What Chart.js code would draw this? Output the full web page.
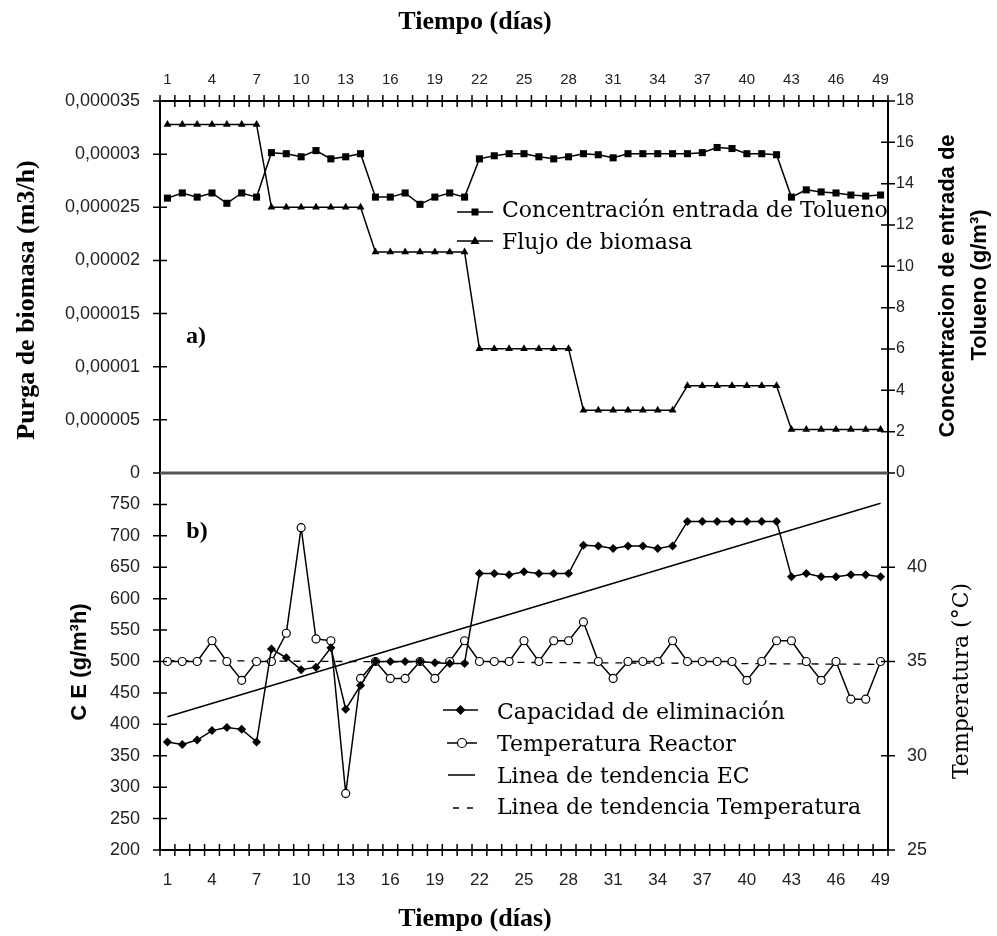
<!DOCTYPE html>
<html>
<head>
<meta charset="utf-8">
<script src="https://cdn.jsdelivr.net/npm/chart.js@4.4.0/dist/chart.umd.min.js"></script>
<style>
  html, body { margin: 0; padding: 0; background: #fff; }
  #wrap { position: relative; width: 997px; height: 936px; overflow: hidden; }
  canvas { position: absolute; left: 0; }
  #chartA { top: 0; }
  #chartB { top: 466px; }
</style>
</head>
<body>
<div id="wrap">
  <canvas id="chartA" width="997" height="480"></canvas>
  <canvas id="chartB" width="997" height="470"></canvas>
</div>
<script>
// --- data ---
const days = [1, 2, 3, 4, 5, 6, 7, 8, 9, 10, 11, 12, 13, 14, 15, 16, 17, 18, 19, 20, 21, 22, 23, 24, 25,
  26, 27, 28, 29, 30, 31, 32, 33, 34, 35, 36, 37, 38, 39, 40, 41, 42, 43, 44, 45, 46, 47, 48, 49];
const dayLabelStep = 3;

// a) concentracion entrada de tolueno (g/m3), right axis
const toluenoIn = [13.3, 13.55, 13.35, 13.55, 13.05, 13.55, 13.35,
  15.5, 15.45, 15.3, 15.6, 15.2, 15.3, 15.45,
  13.35, 13.35, 13.55, 13.0, 13.35, 13.55, 13.35,
  15.2, 15.35, 15.45, 15.45, 15.3, 15.2, 15.3,
  15.45, 15.4, 15.25, 15.45, 15.45, 15.45, 15.45,
  15.45, 15.5, 15.75, 15.7, 15.45, 15.45, 15.4,
  13.35, 13.7, 13.6, 13.55, 13.45, 13.4, 13.45];

// a) flujo / purga de biomasa (m3/h), left axis
const biomasa = [0.0000328, 0.0000328, 0.0000328, 0.0000328, 0.0000328, 0.0000328, 0.0000328,
  0.000025, 0.000025, 0.000025, 0.000025, 0.000025, 0.000025, 0.000025,
  0.0000208, 0.0000208, 0.0000208, 0.0000208, 0.0000208, 0.0000208, 0.0000208,
  0.0000117, 0.0000117, 0.0000117, 0.0000117, 0.0000117, 0.0000117, 0.0000117,
  0.0000059, 0.0000059, 0.0000059, 0.0000059, 0.0000059, 0.0000059, 0.0000059,
  0.0000082, 0.0000082, 0.0000082, 0.0000082, 0.0000082, 0.0000082, 0.0000082,
  0.0000041, 0.0000041, 0.0000041, 0.0000041, 0.0000041, 0.0000041, 0.0000041];

// b) capacidad de eliminacion (g/m3h), left axis
const capElim = [372, 368, 375, 390, 395, 392, 372,
  520, 506, 487, 491, 522, 424, 462,
  500, 500, 500, 500, 498, 497, 497,
  640, 640, 638, 643, 640, 640, 640,
  685, 684, 680, 684, 684, 680, 684,
  723, 723, 723, 723, 723, 723, 723,
  635, 640, 635, 635, 638, 638, 635];

// b) temperatura reactor (C), right axis
const tempReactor = [35, 35, 35, 36.1, 35, 34, 35,
  35, 36.5, 42.1, 36.2, 36.1, 28.0, 34.1,
  35, 34.1, 34.1, 35, 34.1, 35, 36.1,
  35, 35, 35, 36.1, 35, 36.1, 36.1,
  37.1, 35, 34.1, 35, 35, 35, 36.1,
  35, 35, 35, 35, 34.0, 35, 36.1,
  36.1, 35, 34.0, 35, 33.0, 33.0, 35];

// trend lines (end points)
const trendDays = [1, 49];
const trendEC = [412, 752];
const trendTemp = [35.05, 34.85];

// axis ticks
const purgaTicks = [0, 0.000005, 0.00001, 0.000015, 0.00002, 0.000025, 0.00003, 0.000035];
const purgaLabels = ['0', '0,000005', '0,00001', '0,000015', '0,00002', '0,000025', '0,00003', '0,000035'];
const toluenoTicks = [0, 2, 4, 6, 8, 10, 12, 14, 16, 18];
const ceTicks = [200, 250, 300, 350, 400, 450, 500, 550, 600, 650, 700, 750];
const tempTicks = [25, 30, 35, 40];

// --- helpers ---
const SANS = "'Liberation Sans', Arial, sans-serif";
const SERIF = "'Liberation Serif', 'Times New Roman', serif";
const WIDE_SERIF = "'DejaVu Serif', serif";
const INK = '#000';
const TICK_INK = '#222';

const fixedTicks = vals => scale => { scale.ticks = vals.map(v => ({ value: v })); };
// force exact axis sizes so the plot areas line up with the figure
const fixSize = (prop, size) => scale => {
  scale[prop] = size;
  scale.paddingTop = 0; scale.paddingBottom = 0;
  scale.paddingLeft = 0; scale.paddingRight = 0;
};
const dayTick = (val, i) => ((days[i] - 1) % dayLabelStep === 0 ? String(days[i]) : '');
const noGrid = { display: false, drawTicks: false };
const noBorder = { display: false };

function drawText(ctx, str, x, y, font, rot, align) {
  ctx.save();
  ctx.font = font;
  ctx.fillStyle = INK;
  ctx.textAlign = align || 'center';
  ctx.textBaseline = 'middle';
  ctx.translate(x, y);
  if (rot) ctx.rotate(rot);
  ctx.fillText(str, 0, 0);
  ctx.restore();
}

function drawMarker(ctx, style, x, y) {
  ctx.save();
  ctx.fillStyle = INK;
  ctx.strokeStyle = INK;
  ctx.lineWidth = 1.2;
  ctx.beginPath();
  if (style === 'rect') {
    ctx.rect(x - 3.5, y - 3.5, 7, 7);
    ctx.fill();
  } else if (style === 'triangle') {
    ctx.moveTo(x, y - 5); ctx.lineTo(x + 4.5, y + 3); ctx.lineTo(x - 4.5, y + 3); ctx.closePath();
    ctx.fill();
  } else if (style === 'rectRot') {
    ctx.moveTo(x, y - 5); ctx.lineTo(x + 5, y); ctx.lineTo(x, y + 5); ctx.lineTo(x - 5, y); ctx.closePath();
    ctx.fill();
  } else if (style === 'circle') {
    ctx.arc(x, y, 4.5, 0, Math.PI * 2);
    ctx.fillStyle = '#fff';
    ctx.fill();
    ctx.stroke();
  }
  ctx.restore();
}

function drawLegend(ctx, items, offY) {
  items.forEach(it => {
    ctx.save();
    ctx.strokeStyle = INK;
    ctx.lineWidth = 1.5;
    if (it.dash) ctx.setLineDash(it.dash);
    ctx.beginPath();
    ctx.moveTo(it.x0, it.ly - offY);
    ctx.lineTo(it.x1, it.ly - offY);
    ctx.stroke();
    ctx.restore();
    if (it.marker) drawMarker(ctx, it.marker, (it.x0 + it.x1) / 2, it.ly - offY);
    drawText(ctx, it.text, it.tx, it.ty - offY, '22px ' + WIDE_SERIF, 0, 'left');
  });
}

// axis lines and crossing tick marks
function axisDecor(edge) {
  return {
    id: 'axisDecor',
    afterDraw(chart) {
      const { ctx, chartArea: a, scales } = chart;
      const ey = edge === 'top' ? a.top : a.bottom;
      ctx.save();
      ctx.strokeStyle = INK;
      ctx.lineWidth = 2;
      ctx.beginPath();
      ctx.moveTo(a.left, a.top); ctx.lineTo(a.left, a.bottom);
      ctx.moveTo(a.right, a.top); ctx.lineTo(a.right, a.bottom);
      ctx.moveTo(a.left, ey); ctx.lineTo(a.right, ey);
      ctx.stroke();

      ctx.lineWidth = 1.5;
      ctx.beginPath();
      const xs = scales.x;
      for (let k = 0; k <= days.length; k++) {
        const px = xs.getPixelForValue(k - 0.5);
        ctx.moveTo(px, ey - 6); ctx.lineTo(px, ey + 6);
      }
      ['yL', 'yR'].forEach(id => {
        const s = scales[id];
        const ax = id === 'yL' ? a.left : a.right;
        s.ticks.forEach(t => {
          const py = s.getPixelForValue(t.value);
          ctx.moveTo(ax - 7, py); ctx.lineTo(ax + 7, py);
        });
      });
      ctx.stroke();

      if (edge === 'bottom') {
        // separator between the two panels
        ctx.strokeStyle = '#555';
        ctx.lineWidth = 3;
        ctx.beginPath();
        ctx.moveTo(a.left, a.top); ctx.lineTo(a.right, a.top);
        ctx.stroke();
      }
      ctx.restore();
    }
  };
}

const labelsA = {
  id: 'labelsA',
  afterDraw(chart) {
    const ctx = chart.ctx;
    drawText(ctx, 'Tiempo (días)', 475, 22, 'bold 26px ' + SERIF);
    drawText(ctx, 'Purga de biomasa (m3/h)', 27, 300, 'bold 26px ' + SERIF, -Math.PI / 2);
    drawText(ctx, 'Concentracion de entrada de', 948, 286, 'bold 22px ' + SANS, -Math.PI / 2);
    drawText(ctx, 'Tolueno (g/m³)', 980, 285, 'bold 22px ' + SANS, -Math.PI / 2);
    drawText(ctx, 'a)', 196, 337, 'bold 24px ' + SERIF);
    drawLegend(ctx, [
      { text: 'Concentración entrada de Tolueno', marker: 'rect', x0: 457, x1: 493, ly: 212, tx: 502, ty: 211 },
      { text: 'Flujo de biomasa', marker: 'triangle', x0: 457, x1: 493, ly: 241, tx: 502, ty: 243 }
    ], 0);
  }
};

const labelsB = {
  id: 'labelsB',
  afterDraw(chart) {
    const ctx = chart.ctx;
    const off = 466;
    drawText(ctx, 'Tiempo (días)', 475, 919 - off, 'bold 26px ' + SERIF);
    drawText(ctx, 'C E (g/m³h)', 80, 662 - off, 'bold 22px ' + SANS, -Math.PI / 2);
    drawText(ctx, 'Temperatura (°C)', 962, 681 - off, '22px ' + WIDE_SERIF, -Math.PI / 2);
    drawText(ctx, 'b)', 197, 532 - off, 'bold 24px ' + SERIF);
    drawLegend(ctx, [
      { text: 'Capacidad de eliminación', marker: 'rectRot', x0: 443, x1: 478, ly: 710, tx: 497, ty: 713 },
      { text: 'Temperatura Reactor', marker: 'circle', x0: 447, x1: 477, ly: 743, tx: 497, ty: 745 },
      { text: 'Linea de tendencia EC', x0: 448, x1: 475, ly: 775, tx: 497, ty: 777 },
      { text: 'Linea de tendencia Temperatura', dash: [6, 8], x0: 453, x1: 475, ly: 808, tx: 497, ty: 808 }
    ], off);
  }
};

const baseOpts = {
  responsive: false,
  animation: false,
  events: [],
  plugins: { legend: { display: false }, tooltip: { enabled: false } },
  elements: { line: { tension: 0 } }
};

// --- panel a ---
new Chart(document.getElementById('chartA'), {
  type: 'line',
  data: {
    labels: days,
    datasets: [
      {
        label: 'Concentración entrada de Tolueno',
        data: toluenoIn,
        yAxisID: 'yR',
        borderColor: INK,
        borderWidth: 1.5,
        pointStyle: 'rect',
        pointRadius: 5,
        pointBackgroundColor: INK,
        pointBorderWidth: 0
      },
      {
        label: 'Flujo de biomasa',
        data: biomasa,
        yAxisID: 'yL',
        borderColor: INK,
        borderWidth: 1.5,
        pointStyle: 'triangle',
        pointRadius: 4.5,
        pointBackgroundColor: INK,
        pointBorderWidth: 0
      }
    ]
  },
  options: {
    ...baseOpts,
    layout: { padding: { top: 0, bottom: 7, left: 0, right: 0 } },
    scales: {
      x: {
        type: 'category', position: 'top', offset: true,
        grid: noGrid, border: noBorder,
        ticks: { autoSkip: false, maxRotation: 0, padding: 12, color: TICK_INK,
          font: { family: SANS, size: 15 }, callback: dayTick },
        afterFit: fixSize('height', 101)
      },
      yL: {
        position: 'left', min: 0, max: 0.000035,
        grid: noGrid, border: noBorder,
        afterBuildTicks: fixedTicks(purgaTicks),
        ticks: { padding: 20, color: TICK_INK, font: { family: SANS, size: 18 },
          callback: (v, i) => purgaLabels[i] },
        afterFit: fixSize('width', 160)
      },
      yR: {
        position: 'right', min: 0, max: 18,
        grid: noGrid, border: noBorder,
        afterBuildTicks: fixedTicks(toluenoTicks),
        ticks: { padding: 8, color: TICK_INK, font: { family: SANS, size: 16 } },
        afterFit: fixSize('width', 109)
      }
    }
  },
  plugins: [axisDecor('top'), labelsA]
});

// --- panel b ---
new Chart(document.getElementById('chartB'), {
  type: 'line',
  data: {
    labels: days,
    datasets: [
      {
        label: 'Capacidad de eliminación',
        data: capElim,
        yAxisID: 'yL',
        borderColor: INK,
        borderWidth: 1.5,
        pointStyle: 'rectRot',
        pointRadius: 4.5,
        pointBackgroundColor: INK,
        pointBorderWidth: 0
      },
      {
        label: 'Temperatura Reactor',
        data: tempReactor,
        yAxisID: 'yR',
        borderColor: INK,
        borderWidth: 1.5,
        pointStyle: 'circle',
        pointRadius: 4,
        pointBackgroundColor: '#fff',
        pointBorderColor: INK,
        pointBorderWidth: 1.2
      },
      {
        label: 'Linea de tendencia EC',
        data: trendDays.map((d, i) => ({ x: d, y: trendEC[i] })),
        yAxisID: 'yL',
        borderColor: INK,
        borderWidth: 1.5,
        pointRadius: 0
      },
      {
        label: 'Linea de tendencia Temperatura',
        data: trendDays.map((d, i) => ({ x: d, y: trendTemp[i] })),
        yAxisID: 'yR',
        borderColor: INK,
        borderWidth: 1.3,
        borderDash: [7, 7],
        pointRadius: 0
      }
    ]
  },
  options: {
    ...baseOpts,
    layout: { padding: { top: 7, bottom: 0, left: 0, right: 0 } },
    scales: {
      x: {
        type: 'category', position: 'bottom', offset: true,
        grid: noGrid, border: noBorder,
        ticks: { autoSkip: false, maxRotation: 0, padding: 20, color: TICK_INK,
          font: { family: SANS, size: 17 }, callback: dayTick },
        afterFit: fixSize('height', 86)
      },
      yL: {
        position: 'left', min: 200, max: 800,
        grid: noGrid, border: noBorder,
        afterBuildTicks: fixedTicks(ceTicks),
        ticks: { padding: 20, color: TICK_INK, font: { family: SANS, size: 18 } },
        afterFit: fixSize('width', 160)
      },
      yR: {
        position: 'right', min: 25, max: 45,
        grid: noGrid, border: noBorder,
        afterBuildTicks: fixedTicks(tempTicks),
        ticks: { padding: 19, color: TICK_INK, font: { family: SANS, size: 18 } },
        afterFit: fixSize('width', 109)
      }
    }
  },
  plugins: [axisDecor('bottom'), labelsB]
});
</script>
</body>
</html>
